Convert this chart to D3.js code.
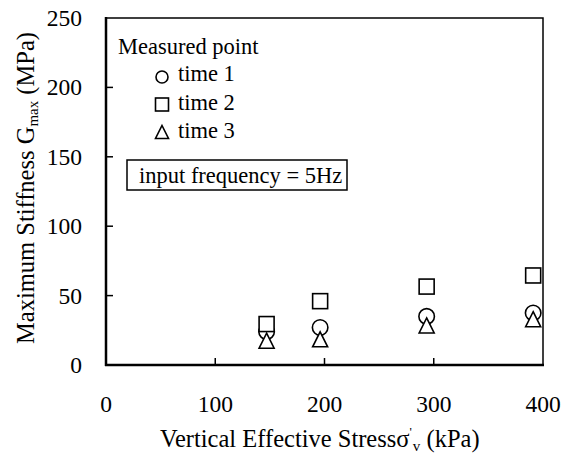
<!DOCTYPE html>
<html>
<head>
<meta charset="utf-8">
<script src="https://cdn.jsdelivr.net/npm/d3@7"></script>
<style>
  body { margin: 0; background: #fff; }
</style>
</head>
<body>
<svg id="chart" width="567" height="455"></svg>
<script>
// values
const stress = [147, 196, 293.5, 391]          // kPa
const time1  = [24, 27, 35, 37.5]              // circle
const time2  = [29.5, 46, 56.5, 64.5]          // square
const time3  = [17.5, 18.5, 28.5, 33]          // triangle
const xTicks = [0, 100, 200, 300, 400]
const yTicks = [0, 50, 100, 150, 200, 250]
const seriesNames = ["time 1", "time 2", "time 3"]
const seriesShapes = ["circle", "square", "triangle"]

const fsTick = 23.5
const fsTitle = 24.5
const fsLegend = 22.5
const serif = "'Liberation Serif'"

const svg = d3.select("#chart")

const x = d3.scaleLinear().domain([0, 400]).range([106, 543])
const y = d3.scaleLinear().domain([0, 250]).range([365, 18])

function txt(xp, yp, size) {
  return svg.append("text").attr("x", xp).attr("y", yp)
            .style("font-family", serif).style("font-size", size + "px")
}

// frame
svg.append("rect")
   .attr("x", x(0)).attr("y", y(250))
   .attr("width", x(400) - x(0)).attr("height", y(0) - y(250))
   .attr("fill", "none").attr("stroke", "#000").attr("stroke-width", 1.5)
svg.append("line")
   .attr("x1", x(0)).attr("x2", x(0)).attr("y1", y(250) - 1).attr("y2", y(0) + 1)
   .attr("stroke", "#000").attr("stroke-width", 2.5)
svg.append("line")
   .attr("x1", x(0) - 1).attr("x2", x(400) + 1).attr("y1", y(0)).attr("y2", y(0))
   .attr("stroke", "#000").attr("stroke-width", 2.5)

// inward ticks
svg.selectAll(".ytick").data(yTicks.slice(1, -1)).enter().append("line")
   .attr("x1", x(0)).attr("x2", x(0) + 7)
   .attr("y1", d => y(d)).attr("y2", d => y(d))
   .attr("stroke", "#000").attr("stroke-width", 1.5)
svg.selectAll(".xtick").data(xTicks.slice(1, -1)).enter().append("line")
   .attr("x1", d => x(d)).attr("x2", d => x(d))
   .attr("y1", y(0)).attr("y2", y(0) - 7)
   .attr("stroke", "#000").attr("stroke-width", 1.5)

// tick labels
yTicks.forEach(d => txt(82, y(d) + 8, fsTick).attr("text-anchor", "end").text(d))
xTicks.forEach(d => txt(x(d), 412, fsTick).attr("text-anchor", "middle").text(d))

// axis titles
const xt = txt(160, 447, fsTitle)
xt.append("tspan").text("Vertical Effective Stress")
xt.append("tspan").text("σ")
xt.append("tspan").style("font-size", "13px").attr("dy", -11).text("'")
xt.append("tspan").style("font-size", "15px").attr("dy", 15).attr("dx", 1).text("v")
xt.append("tspan").attr("dy", -4).text(" (kPa)")

const yt = txt(0, 0, fsTitle)
   .attr("transform", "translate(34,188) rotate(-90)")
   .attr("text-anchor", "middle")
yt.append("tspan").text("Maximum Stiffness G")
yt.append("tspan").style("font-size", "15px").attr("dy", 4).text("max")
yt.append("tspan").attr("dy", -4).text(" (MPa)")

// markers
function marker(sel, shape, s) {
  if (shape == "circle") {
    sel.append("circle").attr("r", s / 2)
  } else if (shape == "square") {
    sel.append("rect").attr("x", -s / 2).attr("y", -s / 2).attr("width", s).attr("height", s)
  } else {
    sel.append("path").attr("d", "M0," + (-s / 2) + "L" + (s / 2) + "," + (s / 2) + "L" + (-s / 2) + "," + (s / 2) + "Z")
  }
  sel.selectAll("*").attr("fill", "#fff").attr("stroke", "#000").attr("stroke-width", 1.6)
}

const allSeries = [time1, time2, time3]
allSeries.forEach(function (vals, k) {
  svg.selectAll(".pt" + k).data(vals).enter().append("g")
     .attr("transform", (d, i) => "translate(" + x(stress[i]) + "," + y(d) + ")")
     .each(function () { marker(d3.select(this), seriesShapes[k], k == 0 ? 15.5 : 15) })
})

// legend
txt(118, 54, fsLegend).text("Measured point")
seriesNames.forEach(function (name, k) {
  const cy = 77 + k * 27.5
  const g = svg.append("g").attr("transform", "translate(162," + cy + ")")
  marker(g, seriesShapes[k], k == 0 ? 12 : 13)
  txt(178, cy + 4 + k * 1, fsLegend).text(name)
})

svg.append("rect").attr("x", 127).attr("y", 160).attr("width", 220).attr("height", 30)
   .attr("fill", "#fff").attr("stroke", "#000").attr("stroke-width", 1.5)
txt(139, 183, fsLegend).text("input frequency = 5Hz")
</script>
</body>
</html>
